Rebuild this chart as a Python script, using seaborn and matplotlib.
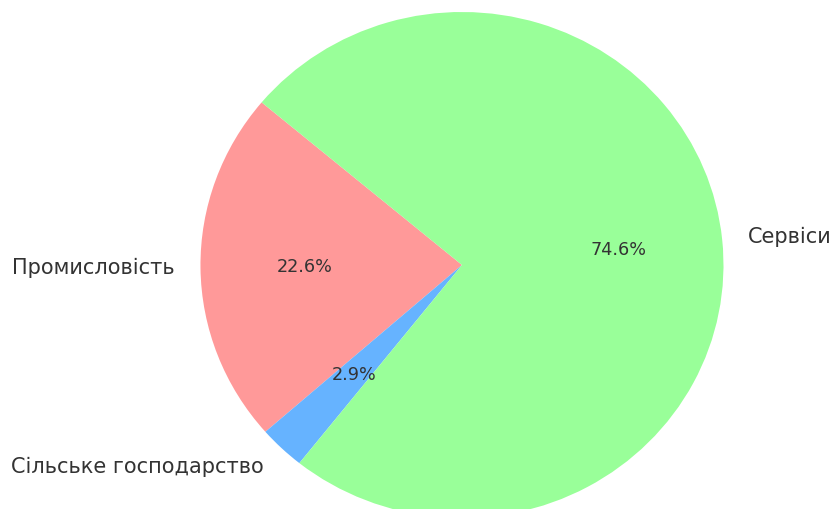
import matplotlib
matplotlib.use('Agg')
import matplotlib.pyplot as plt
import seaborn as sns

sns.set_theme(style='white')
plt.rcParams['font.family'] = ['DejaVu Sans']

# sectors (order + startangle as in the original)
labels = ['Промисловість', 'Сільське господарство', 'Сервіси']
shares = [22.57, 2.86, 74.57]
colors = ['#ff9999', '#66b3ff', '#99ff99']

fig = plt.figure(figsize=(8.37, 5.09), dpi=100)
ax = fig.add_axes([0.1614, -0.1419, 0.7811, 1.2426])

ax.pie(shares, labels=labels, colors=colors, autopct='%1.1f%%',
       startangle=140, wedgeprops={'linewidth': 0},
       textprops={'fontsize': 12.7, 'color': '#333333'})

for t in ax.texts:
    if '%' not in t.get_text():
        t.set_fontsize(15)

ax.set_aspect('auto')
ax.set_xlim(-1.25, 1.25)
ax.set_ylim(-1.25, 1.25)

fig.savefig('out.png', dpi=100)
